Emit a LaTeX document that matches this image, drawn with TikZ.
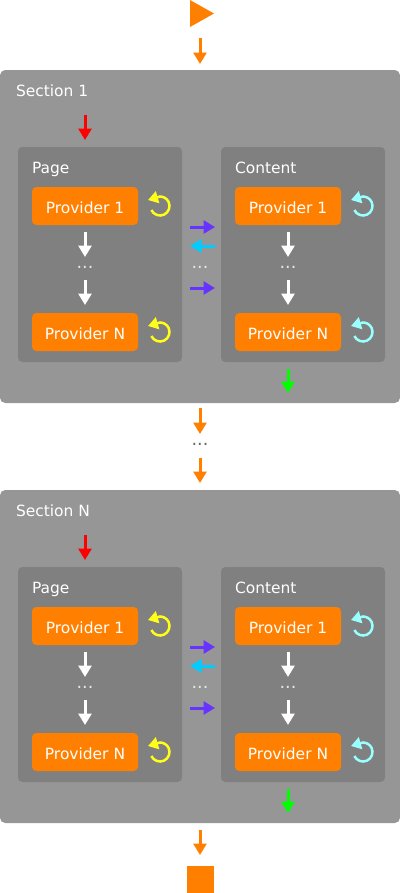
\documentclass[tikz,border=0pt]{standalone}
\usepackage{fontspec}
\setmainfont{DejaVu Sans}
\usetikzlibrary{shapes.geometric, arrows.meta, positioning, calc}
\definecolor{orangeb}{HTML}{FF8000}
\definecolor{outerb}{HTML}{969696}
\definecolor{innerb}{HTML}{808080}
\definecolor{dotc}{HTML}{E6E6E6}
\definecolor{dotg}{HTML}{666666}
\definecolor{purplea}{HTML}{6633FF}
\definecolor{cyana}{HTML}{00CCFF}
\definecolor{loopy}{HTML}{FFFF19}
\definecolor{loopc}{HTML}{99FFFF}
\tikzset{
  section/.style ={fill=outerb, draw=none, rounded corners=3pt, minimum width=8cm,
                   minimum height=6.66cm, inner sep=0pt},
  panel/.style   ={fill=innerb, draw=none, rounded corners=2.5pt, minimum width=3.28cm,
                   minimum height=4.3cm, inner sep=0pt},
  provider/.style={fill=orangeb, draw=none, rounded corners=2.5pt, minimum width=2.12cm,
                   minimum height=0.76cm, inner sep=0pt, text=white, text height=0.3cm, text depth=0cm,
                   font=\fontsize{8.8}{10}\selectfont},
  title/.style   ={text=white, inner sep=0pt, font=\fontsize{8.8}{10}\selectfont},
  dots/.style    ={text=dotc, inner sep=0pt, minimum width=0.3cm, text depth=0.06cm, font=\fontsize{10}{12}\selectfont},
  flow/.style    ={-{Triangle[length=0.23cm,width=0.26cm]}, line width=0.06cm},
  flowo/.style   ={flow, draw=orangeb},
  floww/.style   ={flow, draw=white},
  flowr/.style   ={flow, draw=red},
  flowg/.style   ={flow, draw=green},
  flowp/.style   ={flow, draw=purplea, shorten <=0.16cm, shorten >=0.12cm},
  flowc/.style   ={flow, draw=cyana, shorten <=0.12cm, shorten >=0.16cm},
  refresh/.pic   ={\draw[pic actions, line width=0.05cm, -{Triangle[length=0.2cm,width=0.24cm]}]
                   (205:0.19) arc (205:450:0.19) -- ++(-0.24,-0.07);}
}
\begin{document}
\begin{tikzpicture}[every node/.style={outer sep=0pt}]
  \useasboundingbox (0,0) rectangle (8,-17.86);
  \node[section, anchor=north] (s1) at (4,-1.4) {};
  \node[isosceles triangle, isosceles triangle stretches, fill=orangeb, inner sep=0pt,
        minimum width=0.54cm, minimum height=0.48cm, anchor=lower side] (start) at (3.8,-0.27) {};
  \draw[flowo, shorten <=0.22cm, shorten >=0.12cm] (start.right corner -| s1.north) -- (s1.north);

  % first section
  \node[title, below right=0.29cm and 0.32cm of s1.north west, anchor=north west] (s1t) {Section 1};
  \node[panel, below right=1.54cm and 0.36cm of s1.north west, anchor=north west] (s1a) {};
  \node[panel, right=0.78cm of s1a] (s1b) {};
  \node[title, below right=0.3cm and 0.28cm of s1a.north west, anchor=north west] (s1at) {Page};
  \node[title, below right=0.3cm and 0.28cm of s1b.north west, anchor=north west] (s1bt) {Content};
  \node[provider, below right=0.8cm and 0.28cm of s1a.north west, anchor=north west] (s1a1) {Provider 1};
  \node[dots, below=0.64cm of s1a1, minimum height=0.46cm] (s1ad) {...};
  \node[provider, below=0.66cm of s1ad] (s1an) {Provider N};
  \node[provider, below right=0.8cm and 0.28cm of s1b.north west, anchor=north west] (s1b1) {Provider 1};
  \node[dots, below=0.64cm of s1b1, minimum height=0.46cm] (s1bd) {...};
  \node[provider, below=0.66cm of s1bd] (s1bn) {Provider N};
  \node[dots, minimum height=0.46cm] (s1d) at (s1ad -| s1.north) {...};
  \coordinate[right=0.44cm of s1a1] (s1a1l);
  \coordinate[right=0.44cm of s1an] (s1anl);
  \coordinate[right=0.44cm of s1b1] (s1b1l);
  \coordinate[right=0.44cm of s1bn] (s1bnl);
  \pic[draw=loopy] at (s1a1l) {refresh};
  \pic[draw=loopy] at (s1anl) {refresh};
  \pic[draw=loopc] at (s1b1l) {refresh};
  \pic[draw=loopc] at (s1bnl) {refresh};
  \draw[flowr, shorten <=0.38cm, shorten >=0.14cm] (s1t.south -| s1a1) -- (s1a1 |- s1a.north);
  \draw[floww, shorten <=0.14cm] (s1a1) -- (s1ad);
  \draw[floww, shorten >=0.16cm] (s1ad) -- (s1an);
  \draw[floww, shorten <=0.14cm] (s1b1) -- (s1bd);
  \draw[floww, shorten >=0.16cm] (s1bd) -- (s1bn);
  \draw[flowp] ([yshift=-1.6cm]s1a.north east) -- ([yshift=-1.6cm]s1b.north west);
  \draw[flowc] ([yshift=-1.98cm]s1b.north west) -- ([yshift=-1.98cm]s1a.north east);
  \draw[flowp] ([yshift=-2.82cm]s1a.north east) -- ([yshift=-2.82cm]s1b.north west);
  \draw[flowg, shorten <=0.14cm, shorten >=0.2cm] (s1b1 |- s1b.south) -- (s1b1 |- s1.south);

  % between the sections
  \node[dots, text=dotg, below=0.62cm of s1, minimum height=0.48cm] (sd) {...};
  \node[section, below=0.64cm of sd] (s2) {};
  \draw[flowo, shorten <=0.1cm] (s1) -- (sd);
  \draw[flowo, shorten >=0.14cm] (sd) -- (s2);

  % last section
  \node[title, below right=0.29cm and 0.32cm of s2.north west, anchor=north west] (s2t) {Section N};
  \node[panel, below right=1.54cm and 0.36cm of s2.north west, anchor=north west] (s2a) {};
  \node[panel, right=0.78cm of s2a] (s2b) {};
  \node[title, below right=0.3cm and 0.28cm of s2a.north west, anchor=north west] (s2at) {Page};
  \node[title, below right=0.3cm and 0.28cm of s2b.north west, anchor=north west] (s2bt) {Content};
  \node[provider, below right=0.8cm and 0.28cm of s2a.north west, anchor=north west] (s2a1) {Provider 1};
  \node[dots, below=0.64cm of s2a1, minimum height=0.46cm] (s2ad) {...};
  \node[provider, below=0.66cm of s2ad] (s2an) {Provider N};
  \node[provider, below right=0.8cm and 0.28cm of s2b.north west, anchor=north west] (s2b1) {Provider 1};
  \node[dots, below=0.64cm of s2b1, minimum height=0.46cm] (s2bd) {...};
  \node[provider, below=0.66cm of s2bd] (s2bn) {Provider N};
  \node[dots, minimum height=0.46cm] (s2d) at (s2ad -| s2.north) {...};
  \coordinate[right=0.44cm of s2a1] (s2a1l);
  \coordinate[right=0.44cm of s2an] (s2anl);
  \coordinate[right=0.44cm of s2b1] (s2b1l);
  \coordinate[right=0.44cm of s2bn] (s2bnl);
  \pic[draw=loopy] at (s2a1l) {refresh};
  \pic[draw=loopy] at (s2anl) {refresh};
  \pic[draw=loopc] at (s2b1l) {refresh};
  \pic[draw=loopc] at (s2bnl) {refresh};
  \draw[flowr, shorten <=0.38cm, shorten >=0.14cm] (s2t.south -| s2a1) -- (s2a1 |- s2a.north);
  \draw[floww, shorten <=0.14cm] (s2a1) -- (s2ad);
  \draw[floww, shorten >=0.16cm] (s2ad) -- (s2an);
  \draw[floww, shorten <=0.14cm] (s2b1) -- (s2bd);
  \draw[floww, shorten >=0.16cm] (s2bd) -- (s2bn);
  \draw[flowp] ([yshift=-1.6cm]s2a.north east) -- ([yshift=-1.6cm]s2b.north west);
  \draw[flowc] ([yshift=-1.98cm]s2b.north west) -- ([yshift=-1.98cm]s2a.north east);
  \draw[flowp] ([yshift=-2.82cm]s2a.north east) -- ([yshift=-2.82cm]s2b.north west);
  \draw[flowg, shorten <=0.14cm, shorten >=0.2cm] (s2b1 |- s2b.south) -- (s2b1 |- s2.south);

  \node[fill=orangeb, inner sep=0pt, minimum size=0.54cm, below=0.86cm of s2] (stop) {};
  \draw[flowo, shorten <=0.14cm, shorten >=0.22cm] (s2) -- (stop);
\end{tikzpicture}
\end{document}
